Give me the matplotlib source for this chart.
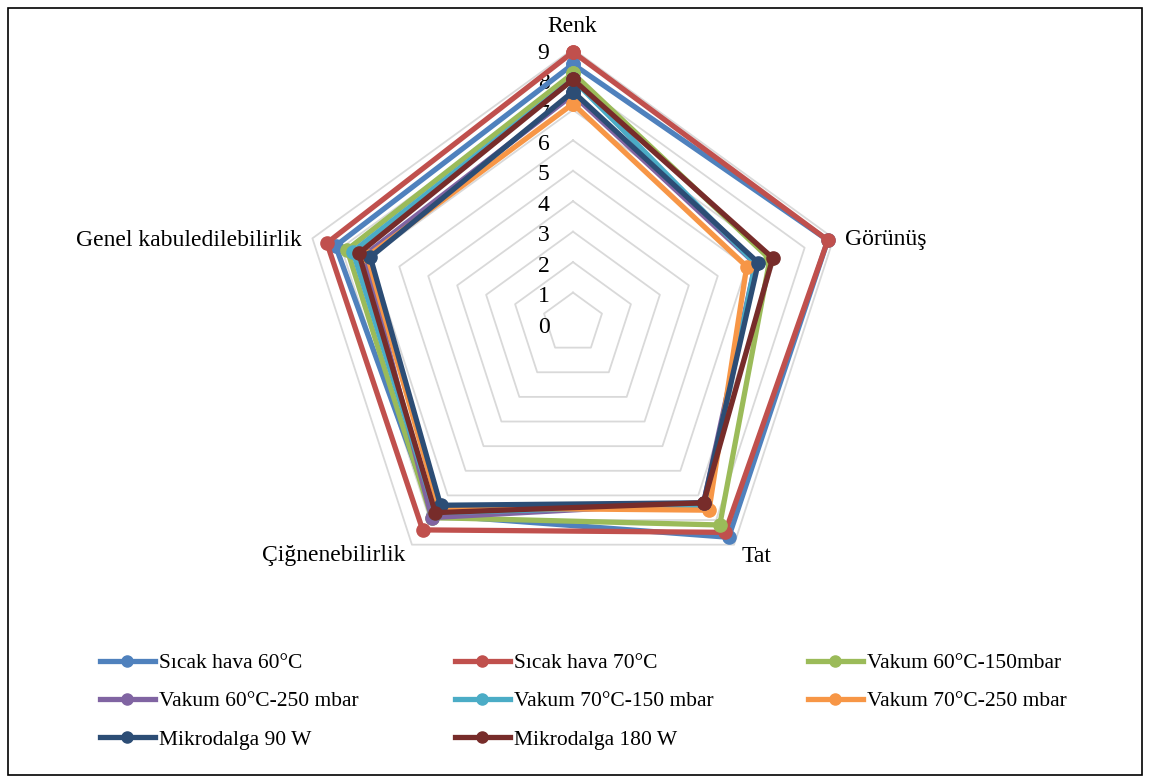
import numpy as np
import matplotlib
matplotlib.use("Agg")
import matplotlib.pyplot as plt
from matplotlib.lines import Line2D
from matplotlib.patches import Rectangle

plt.rcParams['font.family'] = ['Liberation Serif', 'DejaVu Serif']

categories = ["Renk", "Görünüş", "Tat", "Çiğnenebilirlik", "Genel kabuledilebilirlik"]

series_names = [
    "Sıcak hava 60°C", "Sıcak hava 70°C", "Vakum 60°C-150mbar",
    "Vakum 60°C-250 mbar", "Vakum 70°C-150 mbar", "Vakum 70°C-250 mbar",
    "Mikrodalga 90 W", "Mikrodalga 180 W",
]

sicak_60 = [8.5, 8.8, 8.7, 7.8, 8.2]
sicak_70 = [8.9, 8.8, 8.5, 8.4, 8.5]
vakum_60_150 = [8.2, 6.8, 8.2, 7.9, 7.8]
vakum_60_250 = [7.5, 6.3, 7.3, 7.9, 7.2]
vakum_70_150 = [8.0, 6.3, 7.4, 7.7, 7.6]
vakum_70_250 = [7.2, 6.0, 7.6, 7.5, 7.1]
mikro_90 = [7.6, 6.4, 7.3, 7.4, 7.0]
mikro_180 = [8.0, 6.9, 7.3, 7.7, 7.4]

tick_values = list(range(0, 10))

series_values = [sicak_60, sicak_70, vakum_60_150, vakum_60_250,
                 vakum_70_150, vakum_70_250, mikro_90, mikro_180]
colors = ["#4F81BD", "#C0504D", "#9BBB59", "#8064A2",
          "#4BACC6", "#F79646", "#2C4D75", "#772C2A"]

W, H = 1150, 780
fig = plt.figure(figsize=(W / 100, H / 100), dpi=100)

# polar axes: centre (573, 323) px, radius 274 px for value 9
cx, cy, R = 573, 323, 274
ax = fig.add_axes([(cx - R) / W, (H - cy - R) / H, 2 * R / W, 2 * R / H],
                  projection="polar")
ax.set_theta_offset(np.pi / 2)
ax.set_theta_direction(-1)
ax.set_ylim(0, 9)
ax.grid(False)
ax.spines["polar"].set_visible(False)
ax.set_xticks([])
ax.set_yticks([])
ax.patch.set_alpha(0)

n = len(categories)
theta = np.linspace(0, 2 * np.pi, n, endpoint=False)
theta_closed = np.append(theta, theta[0])

# pentagon gridlines
for v in tick_values[1:]:
    ax.plot(theta_closed, [v] * (n + 1), color="#D9D9D9", lw=1.3,
            zorder=1, clip_on=False)

# value labels along the first spoke
for v in tick_values:
    ax.annotate(str(v), xy=(0, v), xytext=(-17, -3), textcoords="offset points",
                ha="right", va="center", fontsize=17, color="black")

# data series
for vals, c, name in zip(series_values, colors, series_names):
    closed = vals + vals[:1]
    ax.plot(theta_closed, closed, color=c, lw=3.8, marker="o", ms=9.5,
            markeredgecolor=c, markerfacecolor=c, solid_joinstyle="round",
            label=name, zorder=3, clip_on=False)

# category labels
label_pos = [(572, 27, "center"), (845, 240, "left"), (757, 556, "center"),
             (405, 556, "right"), (302, 240, "right")]
for cat, (x, y, ha) in zip(categories, label_pos):
    fig.text(x / W, 1 - y / H, cat, ha=ha, va="center", fontsize=17)

# legend: three columns, filled row by row
col_x = [100, 455, 808]
rows_y = 663
for ci, cx_leg in enumerate(col_x):
    idx = list(range(ci, len(series_names), 3))
    handles = [Line2D([], [], color=colors[i], lw=3.8, marker="o", ms=8)
               for i in idx]
    labels = [series_names[i] for i in idx]
    fig.legend(handles, labels, loc="upper left",
               bbox_to_anchor=(cx_leg / W, 1 - (rows_y - 10) / H),
               frameon=False, fontsize=15.5, handlelength=2.55,
               handletextpad=0.2, labelspacing=0.85, borderpad=0,
               borderaxespad=0)

# outer border
fig.patches.append(Rectangle((8 / W, 1 - 775 / H), 1134 / W, 767 / H,
                             transform=fig.transFigure, fill=False,
                             edgecolor="black", lw=1.2))

fig.savefig("out.png", dpi=100, facecolor="white")
